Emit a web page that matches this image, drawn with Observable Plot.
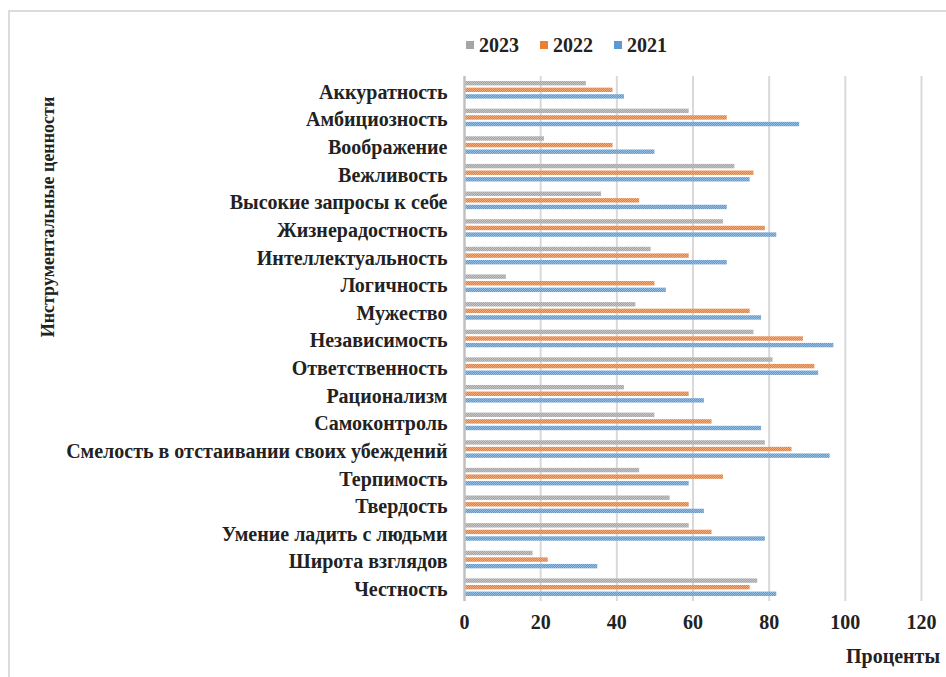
<!DOCTYPE html>
<html><head><meta charset="utf-8">
<script src="https://cdn.jsdelivr.net/npm/d3@7"></script>
<script src="https://cdn.jsdelivr.net/npm/@observablehq/plot@0.6"></script>
<style>
  html,body{margin:0;padding:0;background:#fff;}
  #wrap{position:relative;width:946px;height:677px;overflow:hidden;font-family:"Liberation Serif","Times New Roman",serif;font-weight:bold;color:#222;}
  #frame{position:absolute;left:8px;top:10px;width:960px;height:700px;border-left:2px solid #dcdcdc;border-top:2px solid #dcdcdc;}
  #legend{position:absolute;top:33px;left:466px;height:24px;display:flex;gap:21px;font-size:20px;}
  #legend span.item{display:flex;align-items:center;gap:5px;}
  #legend i{display:inline-block;width:8px;height:8px;}
  #chart{position:absolute;left:0;top:60px;}
  #ylab{position:absolute;left:48px;top:217px;transform:translate(-50%,-50%) rotate(-90deg);white-space:nowrap;font-size:18px;}
  #xlab{position:absolute;right:6px;top:645px;font-size:20px;}
</style>
</head><body>
<div id="wrap">
  <div id="frame"></div>
  <div id="legend"></div>
  <div id="chart"></div>
  <div id="ylab">Инструментальные ценности</div>
  <div id="xlab">Проценты</div>
</div>
<script>
const categories = ["Аккуратность","Амбициозность","Воображение","Вежливость","Высокие запросы к себе","Жизнерадостность","Интеллектуальность","Логичность","Мужество","Независимость","Ответственность","Рационализм","Самоконтроль","Смелость в отстаивании своих убеждений","Терпимость","Твердость","Умение ладить с людьми","Широта взглядов","Честность"];
const series = ["2023","2022","2021"];
const values2023 = [32,59,21,71,36,68,49,11,45,76,81,42,50,79,46,54,59,18,77];
const values2022 = [39,69,39,76,46,79,59,50,75,89,92,59,65,86,68,59,65,22,75];
const values2021 = [42,88,50,75,69,82,69,53,78,97,93,63,78,96,59,63,79,35,82];
const xTicks = [0,20,40,60,80,100,120];
const colors = {"2023":"#A5A5A5","2022":"#ED7D31","2021":"#5B9BD5"};

const seriesValues = {"2023":values2023,"2022":values2022,"2021":values2021};
const data = series.flatMap(s => categories.map((c,i) => ({cat:c, year:s, value:seriesValues[s][i]})));

// legend
const leg = document.getElementById("legend");
series.forEach(s => {
  const it = document.createElement("span"); it.className="item";
  it.innerHTML = `<i style="background:${colors[s]}"></i>${s}`;
  leg.appendChild(it);
});

const W = 946, H = 617;
const mTop = 16, mBottom = 76, mLeft = 464, mRight = 25;
const step = (H - mTop - mBottom) / categories.length;
const barH = 4.4, gap = 6.6;
const offsets = {"2023":-gap,"2022":0,"2021":gap};

const marks = [
  Plot.ruleX(xTicks.filter(d => d>0), {stroke:"#d9d9d9", strokeWidth:2}),
  ...series.map(s => Plot.barX(data.filter(d => d.year===s), {
    y:"cat", x:"value", fill:`url(#pat${s})`,
    insetTop: step/2 + offsets[s] - barH/2,
    insetBottom: step/2 - offsets[s] - barH/2
  })),
  Plot.ruleX([0], {stroke:"#c0c0c0", strokeWidth:2.5}),
  Plot.axisY({tickSize:0, tickPadding:17, dy:2, label:null})
];

const chart = Plot.plot({
  width: W, height: H,
  marginTop: mTop, marginBottom: mBottom, marginLeft: mLeft, marginRight: mRight,
  style:{fontFamily:"'Liberation Serif','Times New Roman',serif", fontWeight:"bold", fontSize:"20px", color:"#222", background:"transparent"},
  x:{domain:[0,120], ticks:xTicks, tickSize:0, tickPadding:13, label:null},
  y:{domain:categories, padding:0, round:false, label:null},
  marks
});

// dotted fill patterns like the reference's textured bars
const ns = "http://www.w3.org/2000/svg";
const defs = document.createElementNS(ns, "defs");
series.forEach(s => {
  const base = colors[s];
  const light = d3.interpolateRgb(base, "#ffffff")(0.35);
  const p = document.createElementNS(ns, "pattern");
  p.setAttribute("id", "pat" + s);
  p.setAttribute("patternUnits", "userSpaceOnUse");
  p.setAttribute("width", 2); p.setAttribute("height", 2);
  [[0,0,2,2,base],[0,0,1,1,light],[1,1,1,1,light]].forEach(([x,y,w,h,f]) => {
    const r = document.createElementNS(ns, "rect");
    r.setAttribute("x",x); r.setAttribute("y",y); r.setAttribute("width",w); r.setAttribute("height",h); r.setAttribute("fill",f);
    p.appendChild(r);
  });
  defs.appendChild(p);
});
chart.insertBefore(defs, chart.firstChild);
document.getElementById("chart").appendChild(chart);
</script>
</body></html>
